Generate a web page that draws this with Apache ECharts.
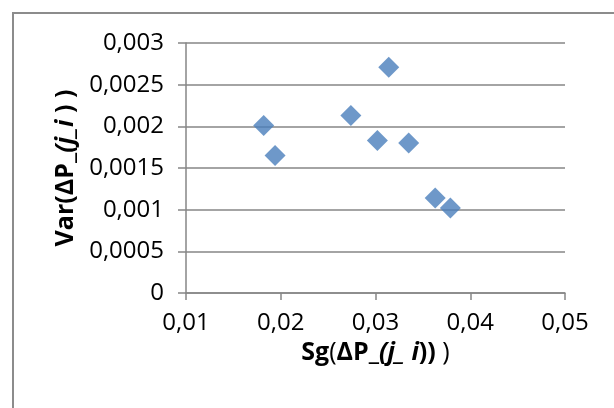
<!DOCTYPE html>
<html>
<head>
<meta charset="utf-8">
<script src="https://cdn.jsdelivr.net/npm/echarts@6/dist/echarts.min.js"></script>
<style>
  html, body { margin: 0; padding: 0; background: #fff; }
  #main { width: 614px; height: 408px; }
</style>
</head>
<body>
<div id="main"></div>
<script>
// Sg(ΔP) values (x) and Var(ΔP) values (y)
var sgValues  = [0.0182, 0.0194, 0.0274, 0.0302, 0.0314, 0.0335, 0.0363, 0.0379];
var varValues = [0.00201, 0.00165, 0.00213, 0.00183, 0.00271, 0.0018, 0.00114, 0.00102];

var points = sgValues.map(function (x, i) { return [x, varValues[i]]; });

function comma(v) {
    return String(+v.toFixed(4)).replace('.', ',');
}

var font = '"Open Sans", sans-serif';
var gray = '#868686';

var titleRich = {
    b: { fontFamily: font, fontSize: 25, fontWeight: 'bold', color: '#000' },
    n: { fontFamily: font, fontSize: 25, color: '#000' },
    bi: { fontFamily: font, fontSize: 25, fontWeight: 'bold', fontStyle: 'italic', color: '#000' }
};

var myChart = echarts.init(document.getElementById('main'));

var option = {
    animation: false,
    backgroundColor: '#fff',
    graphic: [{
        type: 'rect',
        shape: { x: 13, y: 13, width: 700, height: 500 },
        style: { fill: null, stroke: '#8c8c8c', lineWidth: 2 }
    }],
    grid: { left: 186, right: 49, top: 43, bottom: 115 },
    xAxis: {
        type: 'value',
        min: 0.01, max: 0.05, interval: 0.01,
        axisLine: { lineStyle: { color: gray, width: 1.5 } },
        axisTick: { show: true, length: 7, lineStyle: { color: gray, width: 1.5 } },
        splitLine: { show: false },
        axisLabel: { formatter: comma, color: '#000', fontFamily: font, fontSize: 24, margin: 18 },
        name: '{b|Sg}{n|(}{b|ΔP_}{bi|(j_ i}{b|))}{n| )}',
        nameLocation: 'middle',
        nameGap: 42,
        nameTextStyle: { rich: titleRich }
    },
    yAxis: {
        type: 'value',
        min: 0, max: 0.003, interval: 0.0005,
        axisLine: { show: true, lineStyle: { color: gray, width: 1.5 } },
        axisTick: { show: true, length: 8, lineStyle: { color: gray, width: 1.5 } },
        splitLine: { show: true, lineStyle: { color: gray, width: 1.5 } },
        axisLabel: { formatter: comma, color: '#000', fontFamily: font, fontSize: 24, margin: 22 },
        name: '{b|Var(ΔP_}{bi|(j_i}{b| ) )}',
        nameLocation: 'middle',
        nameGap: 104,
        nameTextStyle: { rich: titleRich }
    },
    series: [{
        type: 'scatter',
        symbol: 'diamond',
        symbolSize: 21,
        itemStyle: { color: '#4a7ebb' },
        data: points
    }]
};

myChart.setOption(option);
</script>
</body>
</html>
